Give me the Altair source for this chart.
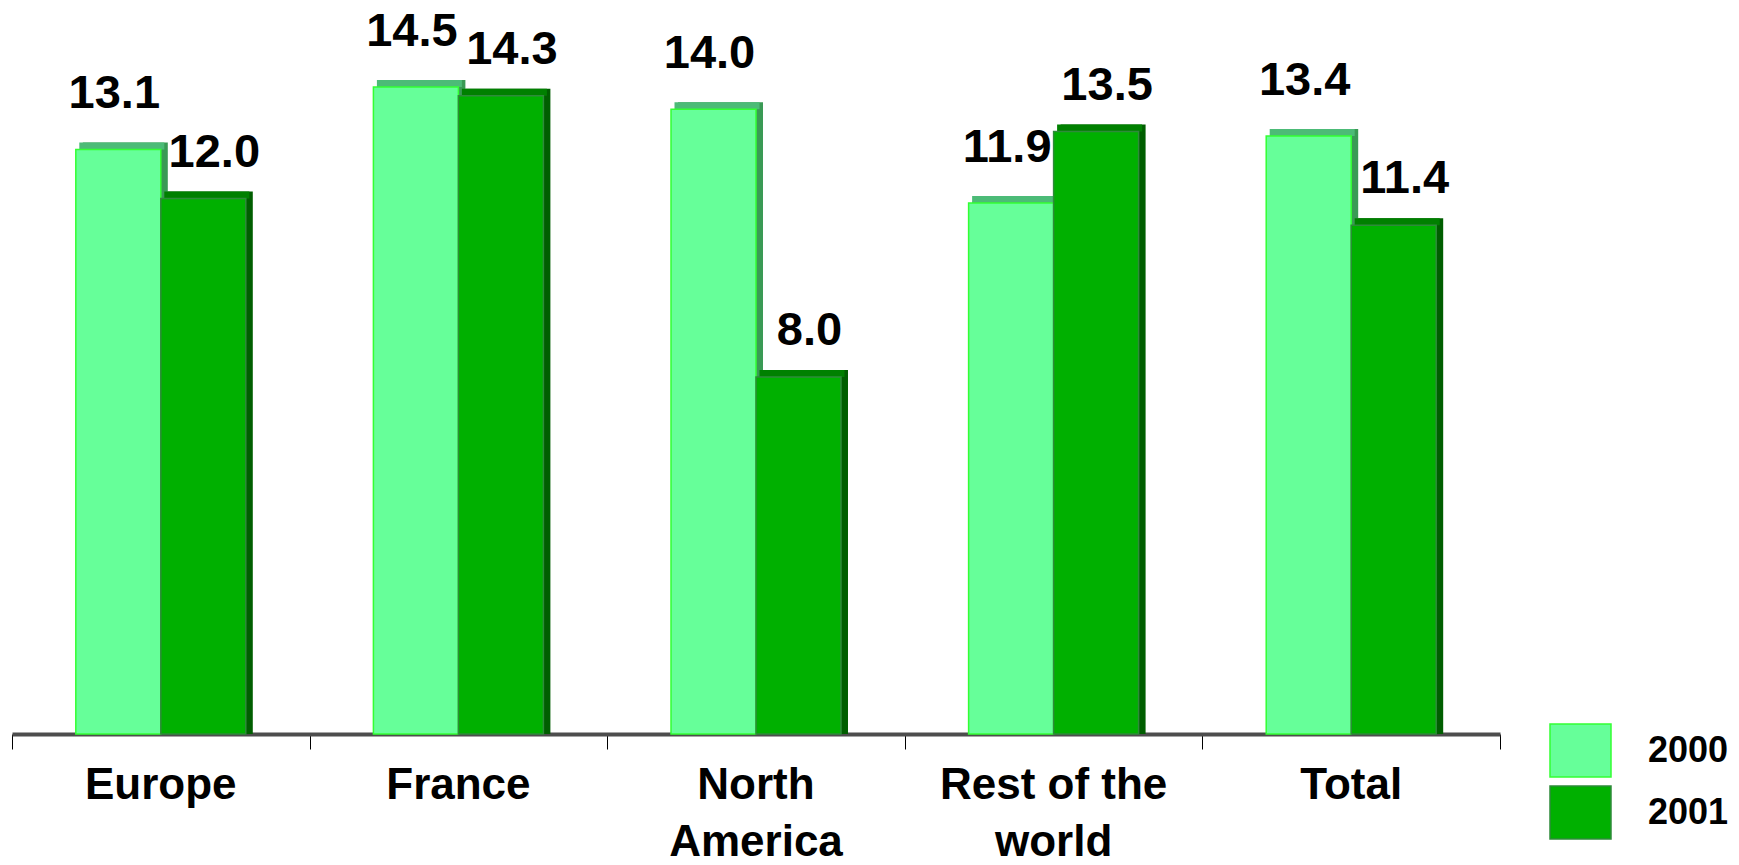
import altair as alt
import pandas as pd

# Growth by region, two years side by side
categories = ["Europe", "France", "North America", "Rest of the world", "Total"]
values_2000 = [13.1, 14.5, 14.0, 11.9, 13.4]
values_2001 = [12.0, 14.3, 8.0, 13.5, 11.4]
years = ["2000", "2001"]

# Multi-line category labels under the axis
category_labels = ["Europe", "France", "North\nAmerica", "Rest of the\nworld", "Total"]

BAR_W = 0.2856  # bar width as a fraction of one category slot
rows = []
for i, (cat, v0, v1) in enumerate(zip(categories, values_2000, values_2001)):
    rows.append({"category": cat, "year": years[0], "value": v0, "x0": i - BAR_W, "x1": i, "mid": i - BAR_W / 2})
    rows.append({"category": cat, "year": years[1], "value": v1, "x0": i, "x1": i + BAR_W, "mid": i + BAR_W / 2})
df = pd.DataFrame(rows)
cat_df = pd.DataFrame({"pos": list(range(len(categories))), "label": category_labels})

FONT = "Liberation Sans"
DEPTH = 7

front_fill = ["#66FF99", "#00B000"]
front_stroke = ["#33FF33", "#2E8B3A"]
top_fill = {"2000": "#4CBB77", "2001": "#008000"}
side_fill = {"2000": "#3A9A55", "2001": "#005E00"}

# Value label placement per series (pixels)
label_shift = {"2000": (-4, -41), "2001": (11, -32)}

x_scale = alt.Scale(domain=[-0.5, len(categories) - 0.5], nice=False, zero=False)
y_scale = alt.Scale(domain=[0, 16], nice=False)
boundaries = [i - 0.5 for i in range(len(categories) + 1)]

x_enc = alt.X(
    "x0:Q",
    scale=x_scale,
    axis=alt.Axis(
        title=None,
        values=boundaries,
        labels=False,
        tickSize=15,
        tickColor="black",
        tickWidth=1,
        domainColor="#4d4d4d",
        domainWidth=4,
        grid=False,
    ),
)
x2_enc = alt.X2("x1:Q")
y_enc = alt.Y("value:Q", scale=y_scale, axis=None)
y_zero = alt.Y2(datum=0)

base = alt.Chart(df)

# Right-hand face of each bar
side = base.mark_bar(xOffset=DEPTH, x2Offset=DEPTH, yOffset=-DEPTH, y2Offset=0).encode(
    x=x_enc,
    x2=x2_enc,
    y=y_enc,
    y2=y_zero,
    fill=alt.condition(alt.datum.year == "2000", alt.value(side_fill["2000"]), alt.value(side_fill["2001"])),
)

# Top face of each bar
top = base.mark_bar(xOffset=DEPTH / 2, x2Offset=DEPTH / 2, yOffset=-DEPTH, y2Offset=0).encode(
    x=x_enc,
    x2=x2_enc,
    y=y_enc,
    y2=alt.Y2("value:Q"),
    fill=alt.condition(alt.datum.year == "2000", alt.value(top_fill["2000"]), alt.value(top_fill["2001"])),
)

legend = alt.Legend(
    title=None,
    orient="none",
    legendX=1537,
    legendY=699,
    padding=0,
    symbolType="M-1,-0.87L1,-0.87L1,0.87L-1,0.87Z",
    symbolSize=3721,
    symbolStrokeWidth=1.5,
    labelFont=FONT,
    labelFontSize=36,
    labelFontWeight="bold",
    labelColor="black",
    labelOffset=36,
    rowPadding=0,
)

front = base.mark_bar(strokeWidth=1.5).encode(
    x=x_enc,
    x2=x2_enc,
    y=y_enc,
    y2=y_zero,
    fill=alt.Fill("year:N", sort=years, scale=alt.Scale(domain=years, range=front_fill), legend=legend),
    stroke=alt.Stroke("year:N", sort=years, scale=alt.Scale(domain=years, range=front_stroke), legend=legend),
)

value_layers = []
for yr in years:
    dx, dy = label_shift[yr]
    value_layers.append(
        base.transform_filter(alt.datum.year == yr)
        .mark_text(font=FONT, fontSize=47, fontWeight="bold", color="black", baseline="alphabetic", dx=dx, dy=dy)
        .encode(
            x=alt.X("mid:Q", scale=x_scale),
            y=y_enc,
            text=alt.Text("value:Q", format=".1f"),
        )
    )

category_text = alt.Chart(cat_df).mark_text(
    font=FONT, fontSize=44, fontWeight="bold", color="black",
    baseline="top", align="center", dy=30, lineBreak="\n", lineHeight=57,
).encode(
    x=alt.X("pos:Q", scale=x_scale),
    y=alt.datum(0),
    text="label:N",
)

chart = (
    alt.layer(side, top, front, *value_layers, category_text)
    .properties(
        width=1488,
        height=714,
        autosize=alt.AutoSizeParams(type="none"),
        padding={"left": 12, "top": 20, "right": 239, "bottom": 131},
        background="white",
    )
    .configure_view(stroke=None)
)

chart.save("out.html", embed_options={"renderer": "svg", "actions": False})
